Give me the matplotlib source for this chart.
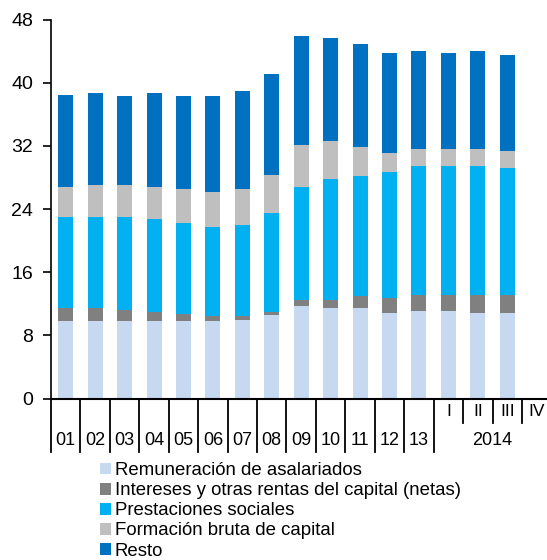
import matplotlib
matplotlib.use("Agg")
import matplotlib.pyplot as plt
from matplotlib.patches import Patch
import numpy as np

plt.rcParams["font.family"] = ["Liberation Sans", "DejaVu Sans"]

# categorias: anos 2001-2013 y trimestres de 2014
etiquetas = ["01", "02", "03", "04", "05", "06", "07", "08", "09", "10",
             "11", "12", "13", "I", "II", "III", "IV"]

remuneracion = [9.80, 9.80, 9.80, 9.80, 9.80, 9.80, 10.00, 10.55,
                11.70, 11.50, 11.50, 10.80, 11.05, 11.05, 10.80, 10.80]
intereses    = [1.70, 1.70, 1.47, 1.20, 0.96, 0.70, 0.50, 0.45,
                0.80, 1.00, 1.45, 1.90, 2.10, 2.10, 2.35, 2.35]
prestaciones = [11.45, 11.45, 11.68, 11.70, 11.44, 11.25, 11.45, 12.45,
                14.25, 15.25, 15.25, 16.00, 16.30, 16.30, 16.30, 16.05]
formacion    = [3.85, 4.10, 4.10, 4.10, 4.35, 4.35, 4.60, 4.80,
                5.30, 4.80, 3.65, 2.40, 2.10, 2.10, 2.10, 2.15]
resto        = [11.70, 11.70, 11.25, 11.95, 11.75, 12.20, 12.45, 12.90,
                13.90, 13.10, 13.10, 12.65, 12.50, 12.20, 12.50, 12.20]

series = [
    ("Remuneración de asalariados", remuneracion, "#C6D9F1"),
    ("Intereses y otras rentas del capital (netas)", intereses, "#808080"),
    ("Prestaciones sociales", prestaciones, "#00B0F0"),
    ("Formación bruta de capital", formacion, "#BFBFBF"),
    ("Resto", resto, "#0070C0"),
]

fig = plt.figure(figsize=(5.47, 5.60), dpi=100)
ax = fig.add_axes([51 / 547, 1 - 398.5 / 560, 496 / 547, 379 / 560])

x = np.arange(len(remuneracion))
base = np.zeros(len(x))
for nombre, vals, color in series:
    vals = np.array(vals)
    ax.bar(x, vals, 0.51, bottom=base, color=color, edgecolor="none")
    base += vals

ax.set_ylim(0, 48)
ax.set_xlim(-0.5, 16.35)
ax.set_yticks(np.arange(0, 49, 8))
ax.tick_params(axis="y", labelsize=14, length=5.5, width=1.2, pad=7.5, direction="out")
ax.set_xticks([])
for s in ["top", "right"]:
    ax.spines[s].set_visible(False)
ax.spines["left"].set_linewidth(1.2)
ax.spines["bottom"].set_linewidth(1.5)

# separadores bajo el eje
xt = ax.get_xaxis_transform()
for b in np.arange(-0.5, 13, 1.0):
    ax.plot([b, b], [0, -0.141], color="black", lw=1.3, transform=xt, clip_on=False)
for b in [13.5, 14.5, 15.5]:
    ax.plot([b, b], [0, -0.065], color="black", lw=1.3, transform=xt, clip_on=False)

for i, lab in enumerate(etiquetas):
    if i < 13:
        ax.text(i, -0.110, lab, transform=xt, ha="center", va="center", fontsize=13)
    else:
        ax.text(i, -0.035, lab, transform=xt, ha="center", va="center", fontsize=12.5)
ax.text(14.5, -0.110, "2014", transform=xt, ha="center", va="center", fontsize=13)

handles = [Patch(facecolor=c, edgecolor="none") for _, _, c in series]
fig.legend(handles, [n for n, _, _ in series], loc="upper left",
           bbox_to_anchor=(100 / 547, 1 - 462 / 560), frameon=False,
           fontsize=13.4, handlelength=0.6, handleheight=0.6,
           handletextpad=0.2, labelspacing=0.17, borderpad=0, borderaxespad=0)

fig.savefig("out.png", dpi=100)
